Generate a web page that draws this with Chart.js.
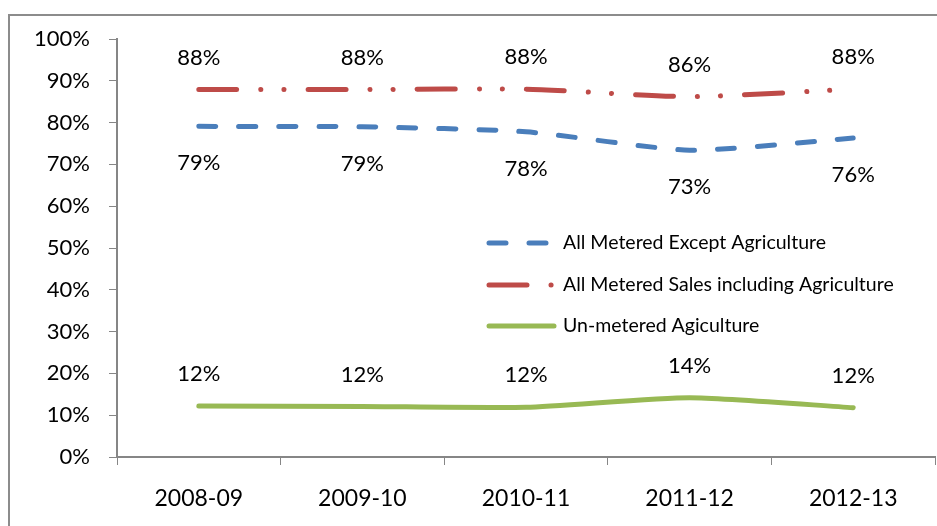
<!DOCTYPE html>
<html>
<head>
<meta charset="utf-8">
<script src="https://cdn.jsdelivr.net/npm/chart.js@4"></script>
<style>
  html, body { margin: 0; padding: 0; background: #fff; }
  #wrap { width: 937px; height: 526px; position: relative; }
</style>
</head>
<body>
<div id="wrap"><canvas id="chart"></canvas></div>
<script>
const years = ["2008-09", "2009-10", "2010-11", "2011-12", "2012-13"];
const exceptAgri = [79.1, 79.0, 77.8, 73.4, 76.3];
const inclAgri = [87.9, 87.9, 88.0, 86.2, 88.0];
const unmeteredAgri = [12.2, 12.1, 11.9, 14.2, 11.8];
const yTicks = [0, 10, 20, 30, 40, 50, 60, 70, 80, 90, 100];

const fontFamily = "Lato, 'Open Sans', sans-serif";

// dash patterns, reused by the legend
const blueDash = [17, 23];
const redDash = [38, 24, 0.1, 23, 0.1, 24];

// labels above / below the points, like the original
const labelPlugin = {
  id: "pointLabels",
  afterDatasetsDraw(chart) {
    const ctx = chart.ctx;
    ctx.save();
    ctx.font = "22px " + fontFamily;
    ctx.fillStyle = "#000";
    ctx.textAlign = "center";
    ctx.textBaseline = "middle";
    chart.data.datasets.forEach((ds, i) => {
      const meta = chart.getDatasetMeta(i);
      meta.data.forEach((pt, j) => {
        const txt = Math.round(ds.data[j]) + "%";
        ctx.fillText(txt, pt.x, pt.y + ds.labelOffset);
      });
    });
    ctx.restore();
  },
};

// legend drawn by hand inside the plot
const legendPlugin = {
  id: "innerLegend",
  afterDraw(chart) {
    const ctx = chart.ctx;
    ctx.save();
    ctx.font = "19.5px " + fontFamily;
    ctx.textBaseline = "middle";
    ctx.fillStyle = "#000";
    const rows = [243, 285, 326];
    chart.data.datasets.forEach((ds, i) => {
      const y = rows[i];
      ctx.beginPath();
      ctx.lineWidth = ds.borderWidth;
      ctx.strokeStyle = ds.borderColor;
      ctx.lineCap = "round";
      ctx.setLineDash(ds.borderDash || []);
      ctx.moveTo(489, y);
      ctx.lineTo(i == 2 ? 554 : 552, y);
      ctx.stroke();
      ctx.setLineDash([]);
      ctx.fillText(ds.label, 563, y);
    });
    // outer frame
    ctx.strokeStyle = "#8c8c8c";
    ctx.lineWidth = 2;
    ctx.strokeRect(9, 15, 1000, 1000);
    ctx.restore();
  },
};

new Chart(document.getElementById("chart"), {
  type: "line",
  data: {
    labels: years,
    datasets: [
      {
        label: "All Metered Except Agriculture",
        data: exceptAgri,
        borderColor: "#4a7ebb",
        borderWidth: 5,
        borderDash: blueDash,
        borderCapStyle: "round",
        labelOffset: 37,
      },
      {
        label: "All Metered Sales including Agriculture",
        data: inclAgri,
        borderColor: "#be4b48",
        borderWidth: 5,
        borderDash: redDash,
        borderCapStyle: "round",
        labelOffset: -32,
      },
      {
        label: "Un-metered Agiculture",
        data: unmeteredAgri,
        borderColor: "#98b954",
        borderWidth: 5,
        borderCapStyle: "round",
        labelOffset: -32,
      },
    ],
  },
  options: {
    responsive: true,
    maintainAspectRatio: false,
    animation: false,
    tension: 0.2,
    layout: { padding: { left: 0, top: 39, right: 2, bottom: 0 } },
    elements: { point: { radius: 0 } },
    plugins: {
      legend: { display: false },
      tooltip: { enabled: false },
    },
    scales: {
      x: {
        offset: true,
        grid: {
          offset: true,
          drawOnChartArea: false,
          drawTicks: true,
          tickLength: 8,
          color: "#868686",
        },
        border: { color: "#868686", width: 2 },
        ticks: {
          color: "#000",
          font: { family: fontFamily, size: 23 },
          padding: 20,
          maxRotation: 0,
        },
        afterFit(scale) {
          scale.height = 69;
        },
      },
      y: {
        min: 0,
        max: 100,
        afterBuildTicks(scale) {
          scale.ticks = yTicks.map((v) => ({ value: v }));
        },
        grid: {
          drawOnChartArea: false,
          drawTicks: true,
          tickLength: 8,
          color: "#868686",
        },
        border: { color: "#868686", width: 2 },
        ticks: {
          color: "#000",
          font: { family: fontFamily, size: 22 },
          padding: 19,
          callback: (v) => v + "%",
        },
        afterFit(scale) {
          scale.width = 117;
        },
      },
    },
  },
  plugins: [labelPlugin, legendPlugin],
});
</script>
</body>
</html>
